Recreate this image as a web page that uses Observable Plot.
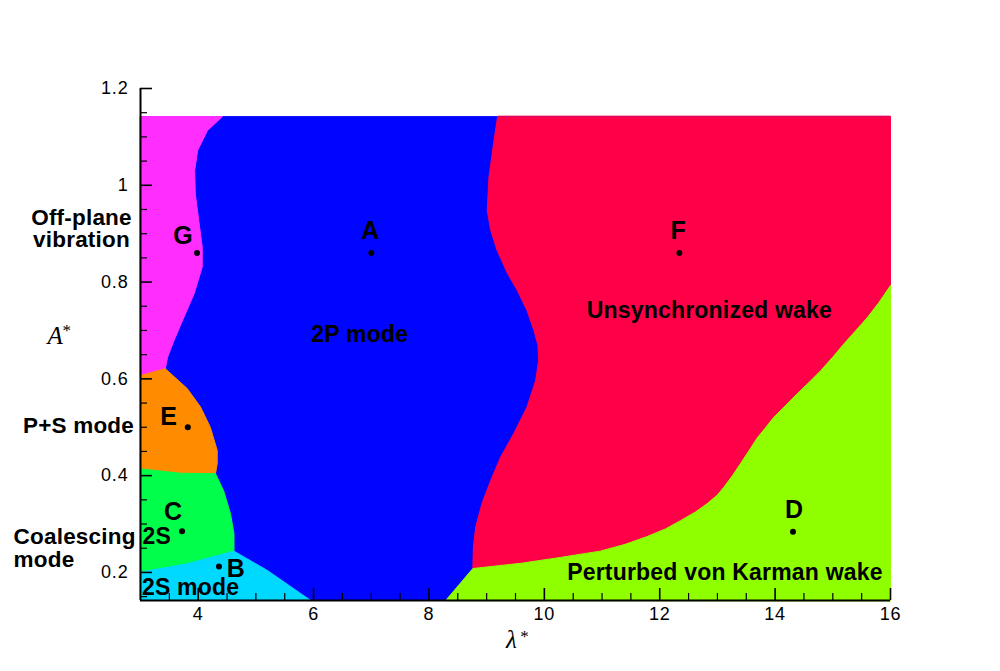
<!DOCTYPE html>
<html>
<head>
<meta charset="utf-8">
<script src="https://cdn.jsdelivr.net/npm/d3@7"></script>
<script src="https://cdn.jsdelivr.net/npm/@observablehq/plot@0.6"></script>
<style>
  html, body { margin: 0; padding: 0; background: #fff; }
  #chart svg g[font-weight="bold"] text { letter-spacing: 0.2px; }
  #chart svg g[aria-label$="tick label"] text { letter-spacing: 0.8px; }
</style>
</head>
<body>
<div id="chart"></div>
<script>
// Wake-mode map in the (λ*, A*) plane: each region is a polygon built from
// the boundary curves between neighbouring modes.

const lambdaRange = [3, 16];
const ampRange = [0.142, 1.142];
const ampAxisTop = 1.2;

const xMajor = [4, 6, 8, 10, 12, 14, 16];
const yMajor = [0.2, 0.4, 0.6, 0.8, 1, 1.2];
const xMinor = d3.range(7, 32).map(i => i / 2).filter(v => !xMajor.includes(v));
const yMinor = d3.range(3, 24).map(i => +(i * 0.05).toFixed(2)).filter(v => !yMajor.includes(v));

// Boundary curves, [λ*, A*]
const bndGA = [[4.42,1.142],[4.16,1.113],[3.99,1.072],[3.94,1.031],[3.95,0.982],[4.01,0.927],[4.07,0.872],[4.07,0.831],[3.93,0.776],[3.73,0.721],[3.58,0.679],[3.47,0.645],[3.43,0.621]];
const bndGE = [[3.43,0.621],[3,0.607]];
const bndEA = [[3.43,0.621],[3.81,0.58],[4.04,0.542],[4.21,0.5],[4.33,0.452],[4.33,0.425],[4.30,0.404]];
const bndEC = [[4.30,0.404],[3.69,0.405],[3,0.414]];
const bndCA = [[4.30,0.404],[4.44,0.369],[4.56,0.321],[4.62,0.28],[4.62,0.244]];
const bndCB = [[4.62,0.244],[3.81,0.218],[3,0.2006]];
const bndBA = [[4.62,0.244],[5.2,0.204],[5.95,0.142]];
const bndAF = [[9.19,1.142],[9.12,1.086],[9.04,1.017],[9.01,0.948],[9.07,0.907],[9.18,0.866],[9.36,0.818],[9.53,0.783],[9.70,0.741],[9.82,0.70],[9.89,0.669],[9.90,0.638],[9.85,0.597],[9.70,0.542],[9.47,0.487],[9.24,0.438],[9.07,0.39],[8.92,0.343],[8.81,0.294],[8.77,0.252],[8.76,0.208]];
const bndAD = [[8.76,0.208],[8.29,0.142]];
const bndFD = [[8.76,0.208],[9.6,0.219],[10.28,0.231],[10.97,0.244],[11.4,0.258],[11.78,0.274],[12.1,0.29],[12.36,0.307],[12.62,0.325],[12.82,0.342],[13.0,0.36],[13.11,0.376],[13.26,0.4],[13.40,0.425],[13.55,0.452],[13.69,0.478],[13.84,0.5],[13.98,0.521],[14.18,0.545],[14.38,0.569],[14.59,0.593],[14.79,0.617],[15.0,0.645],[15.19,0.672],[15.4,0.7],[15.6,0.727],[15.8,0.758],[16,0.793]];

const modeColors = {
  A: "#0005ff", B: "#00d9ff", C: "#00ff4a", D: "#8fff00",
  E: "#ff8c00", F: "#ff0048", G: "#ff2eff"
};

// Simulated cases
const cases = [
  {id: "A", lambda: 7.0,   amp: 0.86},
  {id: "B", lambda: 4.36,  amp: 0.212},
  {id: "C", lambda: 3.72,  amp: 0.285},
  {id: "D", lambda: 14.31, amp: 0.284},
  {id: "E", lambda: 3.82,  amp: 0.50},
  {id: "F", lambda: 12.34, amp: 0.86},
  {id: "G", lambda: 3.98,  amp: 0.86}
];

const modeNames = [
  {text: "2P mode",                   lambda: 6.80,  amp: 0.692},
  {text: "Unsynchronized wake",       lambda: 12.86, amp: 0.741},
  {text: "Perturbed von Karman wake", lambda: 13.13, amp: 0.200},
  {text: "2S mode",                   lambda: 3.867, amp: 0.168},
  {text: "2S",                        lambda: 3.283, amp: 0.274}
];
const sideNamesCentered = [
  {text: "Off-plane\nvibration", lambda: 1.977, amp: 0.91},
  {text: "P+S mode",             lambda: 1.925, amp: 0.503}
];
const sideNamesLeft = [
  {text: "Coalescing\nmode",     lambda: 0.80,  amp: 0.251}
];

// Label offsets (px) of each case letter relative to its dot
const letterOffset = {A: [-1, -22], B: [17, 2], C: [-9, -19], D: [1, -22], E: [-19, -10], F: [-1, -22], G: [-14, -17]};

const rev = a => a.slice().reverse();
const [x0, x1] = lambdaRange, [y0, y1] = ampRange;
const regions = [
  {id: "F", pts: [...bndAF, ...bndFD, [x1, y1]]},
  {id: "D", pts: [...rev(bndAD), ...bndFD, [x1, y0]]},
  {id: "G", pts: [[x0, y1], ...bndGA, ...bndGE]},
  {id: "E", pts: [...rev(bndGE), ...bndEA, ...bndEC]},
  {id: "C", pts: [...rev(bndEC), ...bndCA, ...bndCB]},
  {id: "B", pts: [...rev(bndCB), ...bndBA, [x0, y0]]}
];

const W = 1000, H = 671, mL = 140, mR = 110, mT = 88, mB = 71;
const frameW = W - mL - mR, frameH = H - mT - mB;
const sans = "'Liberation Sans', Arial, Helvetica, sans-serif";
const serif = "'Liberation Serif', 'Times New Roman', serif";
const bold = {fontWeight: "bold", fill: "black"};

const plot = Plot.plot({
  width: W, height: H,
  marginLeft: mL, marginRight: mR, marginTop: mT, marginBottom: mB,
  x: {domain: lambdaRange},
  y: {domain: [y0, ampAxisTop]},
  style: {fontFamily: sans, fontSize: "18px", color: "black", background: "white"},
  marks: [
    // 2P mode fills the whole field; other modes are drawn over it
    Plot.rect([{lo: x0, hi: x1, bot: y0, top: y1}], {x1: "lo", x2: "hi", y1: "bot", y2: "top", fill: modeColors.A}),
    ...regions.map(r => Plot.line(r.pts, {
      x: d => d[0], y: d => d[1], curve: "linear-closed",
      fill: modeColors[r.id], stroke: modeColors[r.id], strokeWidth: 1
    })),
    // axis lines
    Plot.ruleX([x0], {stroke: "black", strokeWidth: 2}),
    Plot.ruleY([y0], {stroke: "black", strokeWidth: 2}),
    // inward ticks
    Plot.ruleX(xMajor, {stroke: "black", strokeWidth: 1.6, insetTop: frameH - 12}),
    Plot.ruleX(xMinor, {stroke: "black", strokeWidth: 1.2, insetTop: frameH - 7}),
    Plot.ruleY(yMajor, {stroke: "black", strokeWidth: 1.6, insetRight: frameW - 12}),
    Plot.ruleY(yMinor, {stroke: "black", strokeWidth: 1.2, insetRight: frameW - 7}),
    Plot.axisX(xMajor, {tickSize: 0, tickPadding: 7, label: null, fontSize: 18, tickFormat: d => String(d)}),
    Plot.axisY(yMajor, {tickSize: 0, tickPadding: 12, label: null, fontSize: 18, tickFormat: d => String(d)}),
    // axis titles
    Plot.text(["A"], {frameAnchor: "left", dx: -93, dy: -9, fontFamily: serif, fontStyle: "italic", fontSize: 25}),
    Plot.text(["*"], {frameAnchor: "left", dx: -78, dy: -14, fontFamily: serif, fontSize: 17}),
    Plot.text(["λ"], {frameAnchor: "bottom", dx: -4, dy: 47, fontFamily: serif, fontStyle: "italic", fontSize: 25}),
    Plot.text(["*"], {frameAnchor: "bottom", dx: 9, dy: 41, fontFamily: serif, fontSize: 17}),
    // cases
    Plot.dot(cases, {x: "lambda", y: "amp", r: 3, fill: "black"}),
    ...cases.map(c => Plot.text([c], {
      x: "lambda", y: "amp", text: "id", dx: letterOffset[c.id][0], dy: letterOffset[c.id][1],
      fontSize: 25, ...bold
    })),
    // mode names
    Plot.text(modeNames, {x: "lambda", y: "amp", text: "text", fontSize: 23, ...bold}),
    Plot.text(sideNamesCentered, {x: "lambda", y: "amp", text: "text", textAnchor: "middle", lineHeight: 1.0, fontSize: 22.5, ...bold}),
    Plot.text(sideNamesLeft, {x: "lambda", y: "amp", text: "text", textAnchor: "start", lineHeight: 1.05, fontSize: 22.5, ...bold})
  ]
});
document.getElementById("chart").append(plot);
</script>
</body>
</html>
